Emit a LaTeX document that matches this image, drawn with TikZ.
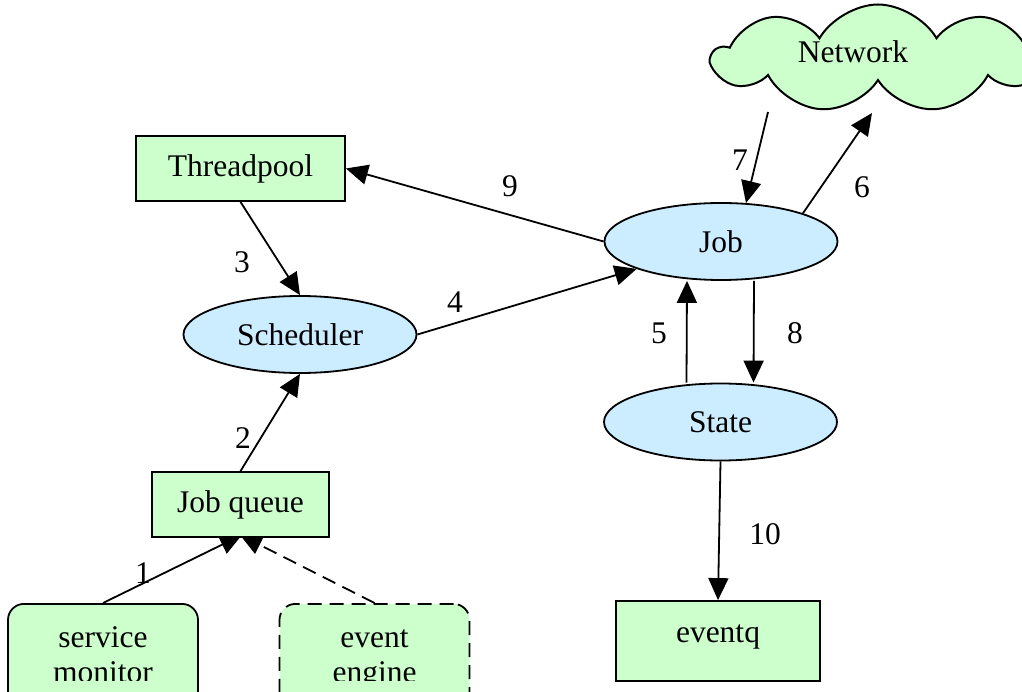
\documentclass[tikz,border=0pt]{standalone}
\usepackage{fontspec}
\setmainfont{Liberation Serif}
\usetikzlibrary{shapes.geometric,shapes.symbols,arrows.meta}
\pgfdeclarelayer{background}
\pgfsetlayers{background,main}
\definecolor{boxgreen}{RGB}{204,255,204}
\definecolor{ovalblue}{RGB}{204,236,255}
\begin{document}
\begin{tikzpicture}[x=1pt,y=-1pt,
  every node/.style={font=\fontsize{31.5}{36}\selectfont, inner sep=0pt},
  box/.style={draw, line width=1.8pt, fill=boxgreen, rectangle},
  oval/.style={draw, line width=1.8pt, fill=ovalblue, ellipse,
    minimum width=233pt, minimum height=77pt},
  roundbox/.style={box, rounded corners=16pt, minimum width=190pt,
    minimum height=130pt, anchor=north},
  arr/.style={line width=1.8pt, -{Triangle[length=22pt,width=20pt]}},
  dashline/.style={dash pattern=on 14pt off 8pt}]

\path[use as bounding box] (0,0) rectangle (1022,692);
\clip (0,0) rectangle (1022,692);

% cloud
\node[cloud, draw, fill=boxgreen, line width=2pt, cloud puffs=9,
  cloud puff arc=120, aspect=3, minimum width=330pt, minimum height=108pt]
  (net) at (878,58.5) {};
\node[anchor=base] (nett) at (853,63) {Network};

% boxes and ovals
\node[box, minimum width=209pt, minimum height=65pt] (tp) at (240.5,168.5) {Threadpool};
\node[oval] (sch) at (300,334.5) {Scheduler};
\node[oval] (job) at (721,241.5) {Job};
\node[oval] (st) at (720.5,422) {State};
\node[box, minimum width=177pt, minimum height=65pt] (jq) at (240.5,504.5) {Job queue};
\node[box, minimum width=204pt, minimum height=80pt] (eq) at (718,641) {};
\node[anchor=base] (eqt) at (718,642) {eventq};

\node[roundbox] (sm) at (103,603) {};
\node[roundbox, dashline] (ee) at (374.5,603) {};
\begin{scope}
  \clip (0,0) rectangle (1022,680);
  \node[anchor=base] (smt1) at (103,647) {service};
  \node[anchor=base] (smt2) at (103,682) {monitor};
  \node[anchor=base] (eet1) at (374.5,647) {event};
  \node[anchor=base] (eet2) at (374.5,682) {engine};
\end{scope}

% cloud attachment points
\coordinate (n7) at (768,112);
\coordinate (n6) at (872,113);

% connectors
\begin{pgfonlayer}{background}
  \draw[arr] (sm.north) -- ([shift={(1.5pt,3pt)}]jq.south);
  \draw[arr, dashline] (ee.north) -- ([shift={(-0.5pt,3pt)}]jq.south);
  \draw[arr] (jq.north) -- (sch.south);
  \draw[arr] (tp.south) -- (sch.north);
  \draw[arr] (sch.east) -- (job.198);
  \draw[arr] (job.west) -- (tp.east);
  \draw[arr] ([xshift=-34pt]st.north) -- ([xshift=-34pt]job.south);
  \draw[arr] ([xshift=33pt]job.south) -- ([xshift=33pt]st.north);
  \draw[arr] (st.south) -- (eq.north);
  \draw[arr] (n7) -- (job.57);
  \draw[arr] (job.19) -- (n6);
\end{pgfonlayer}

% connector labels
\node (l1) at (143,573) {1};
\node (l2) at (243,438) {2};
\node (l3) at (242,262) {3};
\node (l4) at (455,302) {4};
\node (l5) at (659,333) {5};
\node (l6) at (862,187) {6};
\node (l7) at (740,160) {7};
\node (l8) at (795,333) {8};
\node (l9) at (510,186) {9};
\node (l10) at (765,534) {10};
\end{tikzpicture}
\end{document}
